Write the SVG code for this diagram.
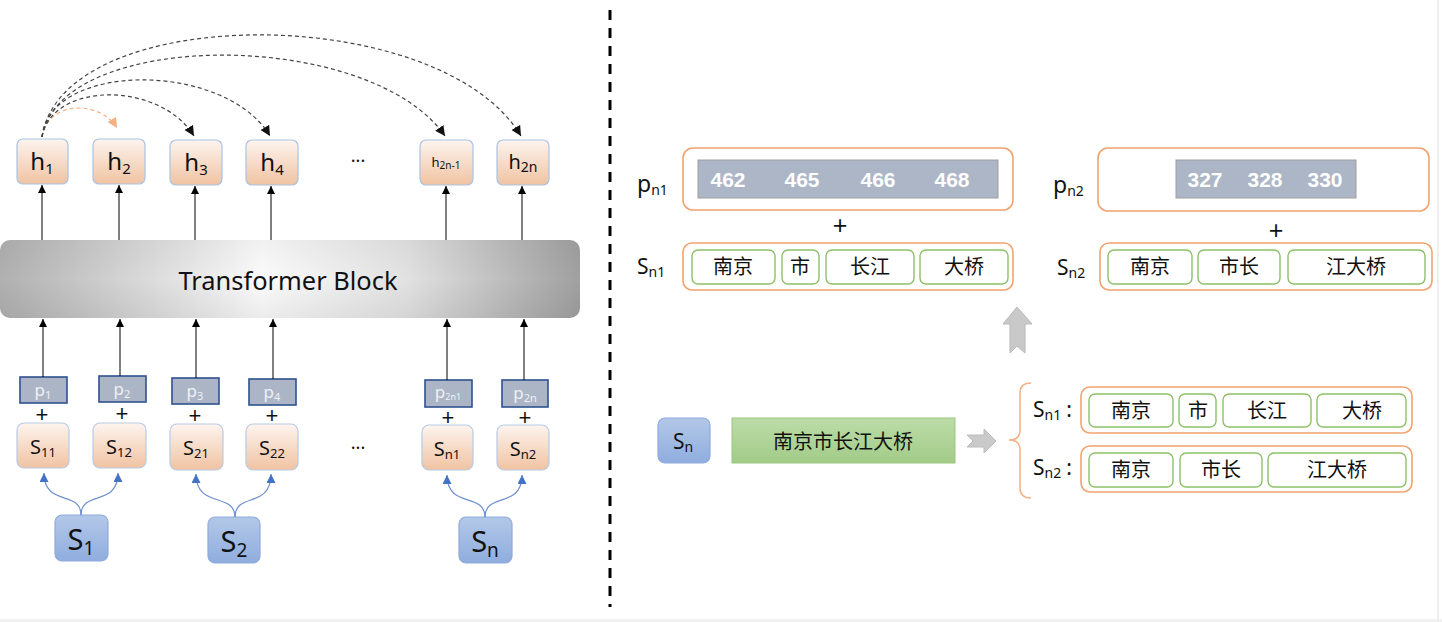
<svg xmlns="http://www.w3.org/2000/svg" width="1442" height="622" viewBox="0 0 1442 622">
<defs>
<linearGradient id="gPeach" x1="0" y1="0" x2="0" y2="1"><stop offset="0" stop-color="#fdf4ef"/><stop offset="1" stop-color="#f0c3a2"/></linearGradient>
<linearGradient id="gBlue" x1="0" y1="0" x2="0" y2="1"><stop offset="0" stop-color="#b3c8e8"/><stop offset="1" stop-color="#8fadde"/></linearGradient>
<linearGradient id="gGreen" x1="0" y1="0" x2="0" y2="1"><stop offset="0" stop-color="#bcdca8"/><stop offset="1" stop-color="#a2cb88"/></linearGradient>
<linearGradient id="gBlock" x1="0" y1="0" x2="1" y2="0"><stop offset="0" stop-color="#b0b0b0"/><stop offset="0.45" stop-color="#fbfbfb"/><stop offset="0.7" stop-color="#e2e2e2"/><stop offset="1" stop-color="#a0a0a0"/></linearGradient>
<linearGradient id="gBlockV" x1="0" y1="0" x2="0" y2="1"><stop offset="0" stop-color="#000" stop-opacity="0.04"/><stop offset="0.5" stop-color="#000" stop-opacity="0"/><stop offset="1" stop-color="#000" stop-opacity="0.06"/></linearGradient>
<marker id="ab" markerWidth="8" markerHeight="8" refX="8" refY="4" orient="auto" markerUnits="userSpaceOnUse"><path d="M0,0 L8,4 L0,8 z" fill="#000"/></marker>
<marker id="ad" markerWidth="11" markerHeight="11" refX="10" refY="5" orient="auto" markerUnits="userSpaceOnUse"><path d="M0,0 L10,5 L0,10 z" fill="#111"/></marker>
<marker id="ao" markerWidth="11" markerHeight="11" refX="10" refY="5" orient="auto" markerUnits="userSpaceOnUse"><path d="M0,0 L10,5 L0,10 z" fill="#f4b183"/></marker>
<marker id="abl" markerWidth="10" markerHeight="10" refX="9" refY="4.5" orient="auto" markerUnits="userSpaceOnUse"><path d="M0,0 L9,4.5 L0,9 z" fill="#4472c4"/></marker>
</defs>
<style>
.t{font-family:"Noto Sans","Noto Sans CJK SC",sans-serif;fill:#111}
.cjk{font-family:"Noto Sans CJK SC","Noto Sans",sans-serif;font-size:20px;fill:#111;text-anchor:middle}
.num{font-family:"Liberation Sans",Arial,sans-serif;font-weight:bold;font-size:21px;fill:#fff;text-anchor:middle}
.plus{font-family:"Liberation Sans",Arial,sans-serif;fill:#111;text-anchor:middle}
.hbox{fill:url(#gPeach);stroke:#a9c3e3;stroke-width:1.2}
.sbox{fill:url(#gPeach);stroke:#b7cbe6;stroke-width:1.2}
.pbox{fill:#abb5c6;stroke:#2f528f;stroke-width:1.6}
.ptxt{font-family:"Noto Sans",sans-serif;fill:#eef1f5;font-size:17px;text-anchor:middle}
.bbox{fill:url(#gBlue);stroke:#8faadc;stroke-width:1.2}
.obox{fill:#fff;stroke:#f2a36e;stroke-width:1.6}
.gbox{fill:#fff;stroke:#8dc168;stroke-width:1.4}
.bar{fill:#acb6c6;stroke:#a0a0a0;stroke-width:1}
.up{stroke:#000;stroke-width:1;fill:none;marker-end:url(#ab)}
.dash{stroke:#444;stroke-width:1.2;fill:none;stroke-dasharray:4 3;marker-end:url(#ad)}
.blue{stroke:#6f90d0;stroke-width:1.2;fill:none;marker-end:url(#abl)}
.mid{text-anchor:middle}
</style>
<rect x="0" y="619" width="1442" height="3" fill="#f1f1f1"/>
<line x1="1438" y1="0" x2="1438" y2="622" stroke="#efefef" stroke-width="2"/>
<line x1="610" y1="10" x2="610" y2="607" stroke="#000" stroke-width="3" stroke-dasharray="10 8"/>

<g id="transformer">
<rect x="0" y="240" width="580" height="78" rx="10" fill="url(#gBlock)"/>
<rect x="0" y="240" width="580" height="78" rx="10" fill="url(#gBlockV)"/>
<text class="t mid" x="288" y="290" font-size="26" textLength="219" lengthAdjust="spacingAndGlyphs">Transformer Block</text>
</g>

<g id="h1"><rect class="hbox" x="17" y="139" width="51" height="45" rx="6"/><text class="t mid" x="42" y="170" font-size="24">h<tspan font-size="15" dy="4">1</tspan></text></g>
<g id="h2"><rect class="hbox" x="93" y="139" width="52" height="45" rx="6"/><text class="t mid" x="119" y="170" font-size="24">h<tspan font-size="15" dy="4">2</tspan></text></g>
<g id="h3"><rect class="hbox" x="170" y="140" width="52" height="45" rx="6"/><text class="t mid" x="196" y="171" font-size="24">h<tspan font-size="15" dy="4">3</tspan></text></g>
<g id="h4"><rect class="hbox" x="246" y="140" width="52" height="45" rx="6"/><text class="t mid" x="272" y="171" font-size="24">h<tspan font-size="15" dy="4">4</tspan></text></g>
<g id="h2n-1"><rect class="hbox" x="420" y="140" width="53" height="45" rx="6"/><text class="t mid" x="446" y="167" font-size="13">h<tspan font-size="10" dy="2">2n-1</tspan></text></g>
<g id="h2n"><rect class="hbox" x="497" y="140" width="52" height="45" rx="6"/><text class="t mid" x="523" y="169" font-size="20">h<tspan font-size="14" dy="3">2n</tspan></text></g>
<text class="t mid" x="358" y="167" font-size="18">···</text>

<g id="p1"><rect class="pbox" x="20" y="377" width="47" height="26"/><text class="ptxt" x="43" y="396">p<tspan font-size="11" dy="3">1</tspan></text></g>
<g id="p2"><rect class="pbox" x="99" y="376" width="47" height="26"/><text class="ptxt" x="122" y="395">p<tspan font-size="11" dy="3">2</tspan></text></g>
<g id="p3"><rect class="pbox" x="172" y="378" width="47" height="26"/><text class="ptxt" x="195" y="397">p<tspan font-size="11" dy="3">3</tspan></text></g>
<g id="p4"><rect class="pbox" x="249" y="379" width="47" height="26"/><text class="ptxt" x="272" y="398">p<tspan font-size="11" dy="3">4</tspan></text></g>
<g id="p2n1"><rect class="pbox" x="425" y="380" width="47" height="27"/><text class="ptxt" x="448" y="398" font-size="13">p<tspan font-size="9" dy="2">2n1</tspan></text></g>
<g id="p2n"><rect class="pbox" x="502" y="380" width="46" height="27"/><text class="ptxt" x="525" y="399">p<tspan font-size="11" dy="3">2n</tspan></text></g>

<g class="plus" font-size="22">
<text x="42" y="422">+</text><text x="122" y="421">+</text><text x="195" y="423">+</text><text x="272" y="423">+</text><text x="448" y="425">+</text><text x="525" y="425">+</text>
</g>

<g id="s11"><rect class="sbox" x="17" y="423" width="52" height="45" rx="7"/><text class="t mid" x="43" y="454" font-size="20">S<tspan font-size="13" dy="3">11</tspan></text></g>
<g id="s12"><rect class="sbox" x="93" y="423" width="53" height="45" rx="7"/><text class="t mid" x="119" y="454" font-size="20">S<tspan font-size="13" dy="3">12</tspan></text></g>
<g id="s21"><rect class="sbox" x="170" y="424" width="53" height="46" rx="7"/><text class="t mid" x="196" y="455" font-size="20">S<tspan font-size="13" dy="3">21</tspan></text></g>
<g id="s22"><rect class="sbox" x="246" y="424" width="52" height="46" rx="7"/><text class="t mid" x="272" y="455" font-size="20">S<tspan font-size="13" dy="3">22</tspan></text></g>
<g id="sn1"><rect class="sbox" x="422" y="425" width="51" height="45" rx="7"/><text class="t mid" x="447" y="456" font-size="20">S<tspan font-size="13" dy="3">n1</tspan></text></g>
<g id="sn2"><rect class="sbox" x="497" y="425" width="52" height="45" rx="7"/><text class="t mid" x="523" y="456" font-size="20">S<tspan font-size="13" dy="3">n2</tspan></text></g>
<text class="t mid" x="358" y="454" font-size="18">···</text>

<g id="S1"><rect class="bbox" x="55" y="515" width="53" height="46" rx="7"/><text class="t mid" x="81" y="550" font-size="29">S<tspan font-size="19" dy="5">1</tspan></text></g>
<g id="S2"><rect class="bbox" x="208" y="517" width="52" height="46" rx="7"/><text class="t mid" x="234" y="552" font-size="29">S<tspan font-size="19" dy="5">2</tspan></text></g>
<g id="Sn"><rect class="bbox" x="459" y="517" width="53" height="46" rx="7"/><text class="t mid" x="485" y="552" font-size="29">S<tspan font-size="19" dy="5">n</tspan></text></g>

<g id="connectors">
<line class="up" x1="42" y1="240" x2="42" y2="185"/>
<line class="up" x1="119" y1="240" x2="119" y2="185"/>
<line class="up" x1="195" y1="240" x2="195" y2="186"/>
<line class="up" x1="271" y1="240" x2="271" y2="186"/>
<line class="up" x1="446" y1="240" x2="446" y2="186"/>
<line class="up" x1="522" y1="240" x2="522" y2="186"/>
<line class="up" x1="43" y1="377" x2="43" y2="319"/>
<line class="up" x1="120" y1="376" x2="120" y2="319"/>
<line class="up" x1="196" y1="378" x2="196" y2="319"/>
<line class="up" x1="273" y1="379" x2="273" y2="319"/>
<line class="up" x1="447" y1="380" x2="447" y2="319"/>
<line class="up" x1="524" y1="380" x2="524" y2="319"/>
<path d="M42,137 C48,100 100,100 117,128" stroke="#f4b183" stroke-width="1.2" fill="none" stroke-dasharray="4 3" marker-end="url(#ao)"/>
<path class="dash" d="M42,137 C52,81 160,81 194,136"/>
<path class="dash" d="M42,137 C50,61 225,61 270,136"/>
<path class="dash" d="M42,137 C60,28 370,28 445,136"/>
<path class="dash" d="M42,137 C62,1 440,1 521,136"/>
<path class="blue" d="M81,515 C81,490 44,507 44,473"/>
<path class="blue" d="M81,515 C81,490 118,507 118,473"/>
<path class="blue" d="M235,517 C235,492 196,509 196,474"/>
<path class="blue" d="M235,517 C235,492 271,509 271,474"/>
<path class="blue" d="M485,517 C485,492 447,509 447,475"/>
<path class="blue" d="M485,517 C485,492 522,509 522,475"/>
<polygon points="1017,307 1032,324 1025,324 1025,353 1017,346 1010,353 1010,324 1003,324" fill="#c9c9c9" stroke="#b8b8b8" stroke-width="1"/>
<polygon points="967,435 984,435 984,429 996,441 984,453 984,447 967,447 973,441" fill="#cacaca" stroke="#bcbcbc" stroke-width="1"/>
<path d="M1031,383 Q1020,383 1020,393 L1020,430 Q1020,440 1009,440 Q1020,440 1020,450 L1020,488 Q1020,498 1031,498" stroke="#f4b183" stroke-width="1.5" fill="none"/>
</g>

<g id="pn1">
<text class="t" x="637" y="192" font-size="23">p<tspan font-size="14" dy="3">n1</tspan></text>
<rect class="obox" x="683" y="148" width="330" height="62" rx="10"/>
<rect class="bar" x="698" y="160" width="300" height="38"/>
<text class="num" x="728" y="187">462</text><text class="num" x="802" y="187">465</text><text class="num" x="878" y="187">466</text><text class="num" x="952" y="187">468</text>
</g>
<text class="plus" x="840" y="234" font-size="25">+</text>
<g id="sn1seg">
<text class="t" x="637" y="274" font-size="21">S<tspan font-size="14" dy="3">n1</tspan></text>
<rect class="obox" x="683" y="243" width="330" height="47" rx="9"/>
<rect class="gbox" x="692" y="250" width="83" height="34" rx="6"/><text class="cjk" x="733" y="274">南京</text>
<rect class="gbox" x="782" y="250" width="37" height="34" rx="6"/><text class="cjk" x="800" y="274">市</text>
<rect class="gbox" x="826" y="250" width="88" height="34" rx="6"/><text class="cjk" x="870" y="274">长江</text>
<rect class="gbox" x="920" y="250" width="88" height="34" rx="6"/><text class="cjk" x="964" y="274">大桥</text>
</g>

<g id="pn2">
<text class="t" x="1053" y="193" font-size="23">p<tspan font-size="14" dy="3">n2</tspan></text>
<rect class="obox" x="1098" y="148" width="331" height="63" rx="10"/>
<rect class="bar" x="1176" y="160" width="180" height="38"/>
<text class="num" x="1205" y="187">327</text><text class="num" x="1265" y="187">328</text><text class="num" x="1325" y="187">330</text>
</g>
<text class="plus" x="1276" y="239" font-size="25">+</text>
<g id="sn2seg">
<text class="t" x="1057" y="275" font-size="21">S<tspan font-size="14" dy="3">n2</tspan></text>
<rect class="obox" x="1100" y="243" width="332" height="47" rx="9"/>
<rect class="gbox" x="1108" y="250" width="84" height="34" rx="6"/><text class="cjk" x="1150" y="274">南京</text>
<rect class="gbox" x="1198" y="250" width="82" height="34" rx="6"/><text class="cjk" x="1239" y="274">市长</text>
<rect class="gbox" x="1288" y="250" width="137" height="34" rx="6"/><text class="cjk" x="1356" y="274">江大桥</text>
</g>

<g id="sn-box"><rect class="bbox" x="658" y="418" width="52" height="45" rx="7"/><text class="t mid" x="683" y="449" font-size="21">S<tspan font-size="14" dy="3">n</tspan></text></g>
<g id="sentence"><rect x="732" y="418" width="223" height="45" fill="url(#gGreen)" stroke="#9cc57e" stroke-width="1"/><text class="cjk" x="843" y="449" font-size="21">南京市长江大桥</text></g>

<g id="seg1">
<text class="t" x="1033" y="417" font-size="21">S<tspan font-size="14" dy="3">n1</tspan><tspan dy="-3" dx="5">:</tspan></text>
<rect class="obox" x="1081" y="387" width="331" height="46" rx="9"/>
<rect class="gbox" x="1089" y="394" width="84" height="33" rx="6"/><text class="cjk" x="1131" y="418">南京</text>
<rect class="gbox" x="1179" y="394" width="37" height="33" rx="6"/><text class="cjk" x="1198" y="418">市</text>
<rect class="gbox" x="1223" y="394" width="88" height="33" rx="6"/><text class="cjk" x="1267" y="418">长江</text>
<rect class="gbox" x="1317" y="394" width="89" height="33" rx="6"/><text class="cjk" x="1362" y="418">大桥</text>
</g>
<g id="seg2">
<text class="t" x="1033" y="475" font-size="21">S<tspan font-size="14" dy="3">n2</tspan><tspan dy="-3" dx="5">:</tspan></text>
<rect class="obox" x="1081" y="446" width="331" height="46" rx="9"/>
<rect class="gbox" x="1089" y="453" width="84" height="34" rx="6"/><text class="cjk" x="1131" y="477">南京</text>
<rect class="gbox" x="1180" y="453" width="82" height="34" rx="6"/><text class="cjk" x="1221" y="477">市长</text>
<rect class="gbox" x="1268" y="453" width="138" height="34" rx="6"/><text class="cjk" x="1337" y="477">江大桥</text>
</g>
</svg>
